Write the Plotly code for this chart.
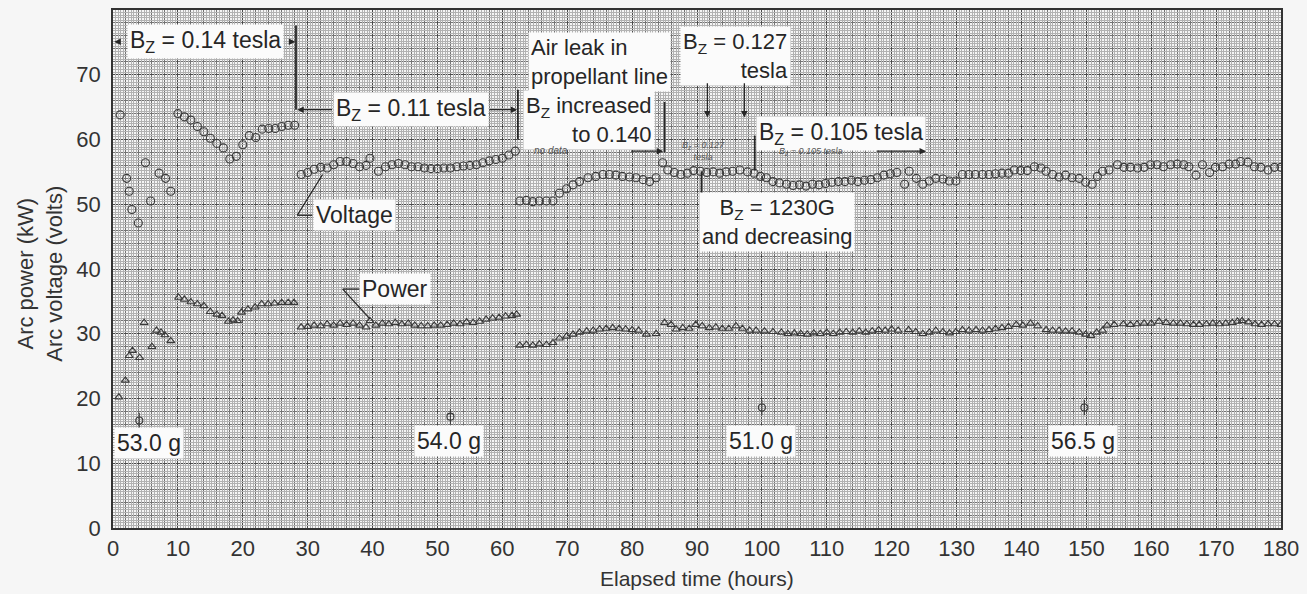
import numpy as np
import plotly.graph_objects as go

# ---- measured data -------------------------------------------------------
volt_hours = [1.1, 2.1, 2.5, 2.9, 3.9, 5.0, 5.8, 7.1, 8.1, 8.9,
              10, 11, 12, 13, 14, 15, 16, 17, 18, 19, 20, 21, 22, 23, 24, 25, 26, 27, 28,
              29, 30, 31, 32, 33, 34, 35, 36, 37, 38, 39, 39.6, 40.9, 42, 43, 44, 45, 46,
              47, 48, 49, 50, 51, 52, 53, 54, 55, 56, 57, 58, 59, 60, 61, 62,
              62.7, 63.7, 64.7, 65.7, 66.8, 67.8, 68.8, 69.9, 70.9, 71.9, 73.2, 74.4,
              75.5, 76.5, 77.5, 78.5, 79.6, 80.6, 81.7, 82.7, 83.7,
              84.7, 85.5, 86.5, 87.5, 88.5, 89.5, 90.5, 91.5, 92.5, 93.5, 94.5, 95.5,
              96.6, 97.8, 98.8,
              99.8, 100.7, 101.7, 102.7, 103.8, 104.8, 105.8, 106.8, 107.8, 108.8, 109.8,
              110.8, 111.8, 112.8, 113.8, 114.8, 115.8, 116.8, 117.8, 118.8, 119.8, 120.8,
              122.0, 122.7, 123.8, 124.8, 125.8, 126.8, 127.9, 128.9, 129.9, 130.9, 131.9,
              132.9, 134.0, 135.0, 136.0, 137.0, 138.0, 138.9, 139.9, 140.9, 142.0, 143.0,
              143.8, 144.8, 145.8, 146.8, 147.8, 148.9, 149.9, 150.9, 151.7, 152.5, 153.5,
              154.8, 155.8, 156.8, 157.9, 158.9, 159.9, 160.9, 161.9, 163.0, 164.0, 165.0,
              165.8, 166.9, 167.9, 169.0, 169.9, 171.0, 172.0, 173.0, 173.8, 174.9, 175.9,
              176.9, 178.0, 179.0, 180.0]
volt_values = [63.8, 54.0, 52.0, 49.2, 47.1, 56.4, 50.5, 54.8, 54.0, 52.0,
               64.0, 63.5, 63.0, 62.0, 61.2, 60.2, 59.4, 58.7, 57.0, 57.4, 59.2, 60.6, 60.3,
               61.6, 61.7, 61.7, 62.0, 62.2, 62.2,
               54.6, 54.9, 55.4, 55.7, 55.6, 56.1, 56.6, 56.6, 56.3, 55.8, 56.0, 57.1, 55.1,
               55.8, 56.1, 56.3, 56.1, 55.8, 55.8, 55.6, 55.5, 55.5, 55.6, 55.6, 55.8, 55.9,
               56.0, 56.1, 56.4, 56.7, 56.9, 57.1, 57.6, 58.2,
               50.5, 50.6, 50.4, 50.5, 50.5, 50.5, 51.7, 52.4, 53.0, 53.5, 54.1, 54.3,
               54.6, 54.6, 54.5, 54.3, 54.2, 54.1, 53.8, 53.5, 54.1,
               56.4, 55.3, 54.9, 54.6, 54.8, 55.2, 55.1, 54.9, 55.0, 54.8, 55.0, 55.1,
               55.3, 55.0, 54.8,
               54.3, 54.1, 53.5, 53.3, 53.1, 52.9, 53.0, 52.8, 53.1, 53.0, 53.2,
               53.4, 53.5, 53.5, 53.7, 53.5, 53.7, 53.8, 54.1, 54.5, 54.7, 54.9,
               53.1, 55.1, 54.0, 53.1, 53.6, 54.0, 53.9, 53.6, 53.6, 54.6, 54.6,
               54.6, 54.6, 54.6, 54.7, 54.8, 54.8, 55.3, 55.2, 55.2, 55.8, 55.6,
               55.1, 54.6, 54.2, 54.5, 54.1, 54.0, 53.4, 53.1, 54.3, 55.1, 55.3,
               56.1, 55.7, 55.7, 55.6, 55.7, 56.1, 56.1, 55.8, 56.1, 56.2, 56.1,
               55.8, 54.5, 56.1, 54.9, 55.7, 55.8, 56.2, 56.2, 56.6, 56.5, 55.8,
               55.7, 55.3, 55.7, 55.7]

power_hours = [0.9, 1.9, 2.5, 3.0, 4.1, 4.8, 6.0, 6.7, 7.4, 8.0, 8.9,
               10.1, 11, 12, 13, 14, 15, 16, 16.8, 17.8, 18.5, 19.2, 19.8, 20.8, 21.9,
               22.9, 23.9, 24.9, 26, 27, 27.9,
               29, 30, 31, 32, 33, 34, 35, 36, 37, 38, 39, 39.6, 40.5, 41.5, 42.5, 43.5,
               44.5, 45.5, 46.5, 47.5, 48.5, 49.5, 50.5, 51.5, 52.5, 53.5, 54.5, 55.5,
               56.5, 57.5, 58.5, 59.5, 60.5, 61.5, 62.2,
               62.7, 63.7, 64.7, 65.7, 66.8, 67.8, 68.8, 69.9, 70.9, 71.9, 73, 74, 75,
               76, 77, 78, 79, 80, 81, 82.2, 83.7,
               85, 86, 86.8, 87.8, 88.8, 89.8, 90.8, 91.9, 92.9, 93.9, 94.9, 96, 97, 98.1,
               99.1, 100.4, 101.7, 103, 104, 105, 106, 107, 108, 109, 110, 111, 112, 113,
               114, 115, 116, 117, 118, 119, 120, 121,
               122.6, 123.7, 124.8, 125.8, 126.8, 127.9, 128.9, 129.9, 130.9, 131.9, 133,
               134, 135, 136, 137, 138, 139.2, 140.2, 141.4, 142.5, 143.8, 144.8, 145.8,
               146.8, 147.8, 148.9, 149.9, 150.7, 151.6, 152.5, 153.2, 154.3, 155.7,
               156.8, 157.8, 158.9, 160, 161.2, 162.3, 163.4, 164.5, 165.5, 166.5, 167.4,
               168.5, 169.5, 170.5, 171.5, 172.5, 173.3, 174, 175, 176, 177, 178, 179, 180]
power_values = [20.2, 22.8, 26.6, 27.4, 26.3, 31.7, 28.0, 30.5, 30.2, 29.8, 28.9,
                35.6, 35.3, 34.9, 34.6, 34.3, 33.4, 33.0, 32.8, 31.9, 32.1, 32.0, 33.3,
                33.8, 34.1, 34.6, 34.6, 34.7, 34.8, 34.8, 34.8,
                31.0, 31.1, 31.3, 31.2, 31.5, 31.3, 31.6, 31.4, 31.6, 31.3, 31.0, 32.0,
                31.3, 31.6, 31.5, 31.7, 31.5, 31.6, 31.3, 31.2, 31.2, 31.3, 31.3, 31.4,
                31.6, 31.5, 31.8, 31.7, 31.9, 32.2, 32.4, 32.5, 32.7, 32.8, 33.0,
                28.2, 28.3, 28.2, 28.4, 28.3, 28.6, 29.3, 29.6, 29.9, 30.2, 30.4, 30.5,
                30.7, 30.8, 30.9, 30.8, 30.7, 30.6, 30.5, 29.9, 30.0,
                31.7, 31.4, 30.7, 30.9, 30.8, 31.4, 31.2, 30.9, 31.0, 30.8, 30.8, 31.2,
                30.8, 30.5,
                30.5, 30.4, 30.3, 30.2, 30.0, 30.1, 30.0, 29.9, 30.1, 30.0, 30.2, 30.0,
                30.2, 30.3, 30.2, 30.4, 30.2, 30.4, 30.6, 30.5, 30.7, 30.5,
                30.6, 30.3, 30.0, 30.2, 30.5, 30.3, 30.1, 30.3, 30.6, 30.5, 30.6,
                30.5, 30.6, 30.8, 30.9, 31.1, 31.4, 31.3, 31.6, 31.2, 30.6, 30.5, 30.5,
                30.4, 30.4, 30.2, 29.9, 29.7, 30.2, 30.5, 31.3, 31.4, 31.5,
                31.4, 31.5, 31.6, 31.6, 31.9, 31.7, 31.6, 31.6, 31.5, 31.4, 31.4,
                31.5, 31.6, 31.5, 31.6, 31.7, 31.9, 32.0, 31.8, 31.5, 31.4, 31.5, 31.5, 31.4]

# propellant weighings: time, position of the mark, label
weigh_hours = [4.05, 52.0, 100.0, 149.7]
weigh_marks = [16.6, 17.2, 18.6, 18.6]
weigh_labels = ["53.0 g", "54.0 g", "51.0 g", "56.5 g"]

x_ticks = list(range(0, 181, 10))
y_ticks = list(range(0, 71, 10))

FONT = "Liberation Sans, Arial, sans-serif"
INK = "#262626"
BOX = "#fbfbfb"

fig = go.Figure()

fig.add_trace(go.Scatter(
    x=volt_hours, y=volt_values, mode="markers", name="Voltage",
    marker=dict(symbol="circle-open", size=8, color="#3a3a3a", line=dict(width=1.1)),
))
fig.add_trace(go.Scatter(
    x=power_hours, y=power_values, mode="markers", name="Power",
    marker=dict(symbol="triangle-up-open", size=7, color="#3a3a3a", line=dict(width=1.1)),
))
fig.add_trace(go.Scatter(
    x=weigh_hours, y=weigh_marks, mode="markers",
    marker=dict(symbol="circle-open", size=7, color="#3a3a3a", line=dict(width=1.1)),
))
fig.add_trace(go.Scatter(
    x=weigh_hours, y=weigh_marks, mode="markers",
    marker=dict(symbol="line-ns-open", size=11, color="#3a3a3a", line=dict(width=1.1)),
))
# empty trace so the fine-ruling overlay axes exist
fig.add_trace(go.Scatter(x=[], y=[], xaxis="x2", yaxis="y2", hoverinfo="skip"))

# fine graph-paper rulings (every 0.4 unit, skipping the 2-unit lines)
fine_x = [v for v in np.round(np.arange(0, 180.001, 0.4), 2) if abs(v / 2 - round(v / 2)) > 1e-6]
fine_y = [v for v in np.round(np.arange(0, 80.001, 0.4), 2) if abs(v / 2 - round(v / 2)) > 1e-6]

axis_common = dict(showline=True, linecolor="#333", linewidth=1.5, mirror=True,
                   zeroline=False, ticks="", gridcolor="#4a4a4a", gridwidth=1.2,
                   tickfont=dict(family=FONT, size=22, color="#333"))

fig.update_layout(
    width=1307, height=594,
    margin=dict(l=113, r=25, t=8, b=66),
    paper_bgcolor="#f6f6f6", plot_bgcolor="#f5f5f5",
    showlegend=False,
    xaxis=dict(range=[0, 180], tickmode="array", tickvals=x_ticks,
               minor=dict(dtick=2, showgrid=True, gridcolor="#747474", gridwidth=1),
               **axis_common),
    yaxis=dict(range=[0, 80], tickmode="array", tickvals=y_ticks,
               minor=dict(dtick=2, showgrid=True, gridcolor="#747474", gridwidth=1),
               ticklabelstandoff=6,
               **axis_common),
    xaxis2=dict(range=[0, 180], overlaying="x", tickmode="array", tickvals=fine_x,
                showticklabels=False, ticks="", showgrid=True, gridcolor="#b2b2b2",
                gridwidth=1, zeroline=False, showline=False),
    yaxis2=dict(range=[0, 80], overlaying="y", tickmode="array", tickvals=fine_y,
                showticklabels=False, ticks="", showgrid=True, gridcolor="#b2b2b2",
                gridwidth=1, zeroline=False, showline=False),
)

ann = []
shapes = []


def label(x, y, text, size=23, align="center", xanchor="center", yanchor="middle",
          box=True, color=INK, italic=False):
    ann.append(dict(x=x, y=y, xref="x", yref="y", text=text, showarrow=False,
                    font=dict(family=FONT, size=size, color=color,
                              style="italic" if italic else "normal"),
                    align=align, xanchor=xanchor, yanchor=yanchor,
                    bgcolor=BOX if box else None, borderpad=2))


def arrow(x0, y0, x1, y1, head=True):
    ann.append(dict(x=x1, y=y1, ax=x0, ay=y0, xref="x", yref="y", axref="x", ayref="y",
                    text="", showarrow=True, arrowhead=2 if head else 0,
                    arrowsize=1, arrowwidth=1.3, arrowcolor=INK))


def line(x0, y0, x1, y1, w=1.8):
    shapes.append(dict(type="line", xref="x", yref="y", x0=x0, y0=y0, x1=x1, y1=y1,
                       line=dict(color=INK, width=w)))


# magnetic-field periods
label(14.2, 75.1, "B<sub>Z</sub> = 0.14 tesla")
arrow(1.0, 75.1, 0.2, 75.1)
arrow(26.9, 75.1, 28.1, 75.1)
line(28.2, 77.6, 28.2, 64.6)

label(45.9, 64.6, "B<sub>Z</sub> = 0.11 tesla")
arrow(34.0, 64.6, 28.4, 64.6)
arrow(57.8, 64.6, 62.3, 64.6)
line(62.4, 67.7, 62.4, 60.0)

label(64.0, 72.0, "Air leak in<br>propellant line", size=22, align="left", xanchor="left")
label(83.6, 63.0, "B<sub>Z</sub> increased<br>to 0.140", size=22, align="right", xanchor="right")
line(85.0, 65.8, 85.0, 58.0)
label(67.5, 58.3, "no data", size=10, box=False, italic=True, color="#555")
arrow(79.6, 58.2, 84.8, 58.2)

label(95.9, 72.9, "B<sub>Z</sub> = 0.127<br>tesla", size=22, align="right")
arrow(91.6, 68.9, 91.6, 63.4)
arrow(97.3, 68.9, 97.3, 63.4)
label(91.0, 58.3, "B<sub>z</sub> = 0.127<br>tesla", size=9, box=False, italic=True, color="#555")
line(98.9, 60.6, 98.9, 55.2)

label(112.2, 60.9, "B<sub>Z</sub> = 0.105 tesla")
label(107.5, 58.2, "B<sub>z</sub> = 0.105 tesla", size=9, box=False, italic=True, color="#555")
arrow(117.5, 58.2, 125.3, 58.2)

label(102.4, 47.2, "B<sub>Z</sub> = 1230G<br>and decreasing", size=22)
line(90.7, 55.1, 90.7, 45.4)

# series call-outs
label(37.2, 48.3, "Voltage")
line(30.7, 48.3, 28.4, 48.3, w=1.3)
line(28.4, 48.3, 32.3, 54.6, w=1.3)

label(43.4, 36.9, "Power")
line(38.3, 36.9, 35.4, 36.9, w=1.3)
line(35.4, 36.9, 39.6, 32.3, w=1.3)

# weighing labels
label(0.2, 13.2, weigh_labels[0], xanchor="left")
for h, w in zip(weigh_hours[1:], weigh_labels[1:]):
    label(h - 0.2, 13.4, w)

# axis titles
ann.append(dict(x=0.5, y=-0.097, xref="paper", yref="paper", showarrow=False,
                text="Elapsed time (hours)", xanchor="center", yanchor="middle",
                font=dict(family=FONT, size=21, color="#333")))
ann.append(dict(x=-0.062, y=0.49, xref="paper", yref="paper", showarrow=False,
                text="Arc power (kW)<br>Arc voltage (volts)", textangle=-90,
                xanchor="center", yanchor="middle",
                font=dict(family=FONT, size=22, color="#333")))

fig.update_layout(annotations=ann, shapes=shapes)
fig.write_html("out.html")
